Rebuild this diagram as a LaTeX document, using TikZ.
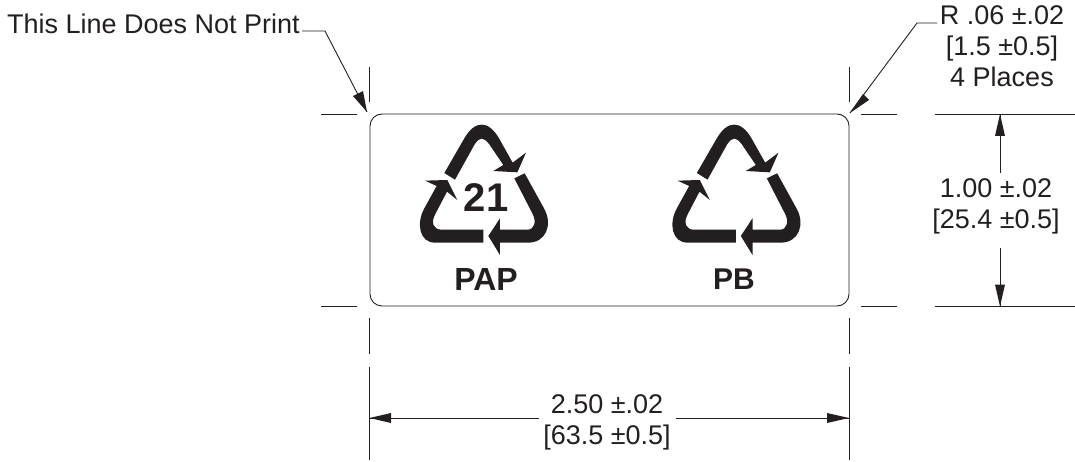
\documentclass[tikz,border=0pt]{standalone}
\usepackage{fontspec}
\setmainfont{Liberation Sans}
\definecolor{ink}{HTML}{231F20}
\tikzset{
  dimline/.style={draw=ink,line width=0.9pt},
  leader/.style={draw=ink,line width=0.9pt},
  head/.style={fill=ink,draw=none},
  dimtext/.style={font=\fontsize{27}{31}\selectfont,align=center,text=ink,inner sep=0pt},
  codetext/.style={font=\fontsize{30}{30}\selectfont\bfseries,text=ink,inner sep=0pt},
}
\newcommand{\recycle}{%
  % top arrow
  \fill[ink] (133,189) -- (193,85) .. controls (225,30) and (265,30) .. (297,85) -- (338,158) -- (378,128) -- (352,187) -- (280,183) -- (310,165) -- (268,103) .. controls (250,80) and (240,80) .. (224,103) -- (165,209) -- cycle;
  % right arrow
  \fill[ink] (374,190) -- (432,295) .. controls (460,345) and (437,398) .. (385,398) -- (300,398) -- (300,435) -- (265,378) -- (300,325) -- (300,359) -- (383,359) .. controls (403,359) and (410,335) .. (398,312) -- (343,205) -- cycle;
  % left arrow
  \fill[ink] (250,398) -- (105,398) .. controls (58,398) and (48,340) .. (73,295) -- (110,228) -- (75,212) -- (142,210) -- (172,270) -- (141,245) -- (107,310) .. controls (90,340) and (102,359) .. (124,359) -- (250,359) -- cycle;
}
\begin{document}
\begin{tikzpicture}[x=1pt,y=-1pt]
\useasboundingbox (0,0) rectangle (1075,462);
% label outline
\draw[draw=ink,line width=0.9pt,rounded corners=12pt] (370,114) rectangle (849,306);
% extension lines
\foreach \x in {369.5,849}{
  \draw[dimline] (\x,67) -- (\x,102);
  \draw[dimline] (\x,318) -- (\x,354);
  \draw[dimline] (\x,367) -- (\x,460);
}
\foreach \y in {114,306.5}{
  \draw[dimline] (321,\y) -- (357,\y);
  \draw[dimline] (861,\y) -- (897,\y);
  \draw[dimline] (935,\y) -- (1075,\y);
}
% width dimension
\coordinate (wl) at (369.5,418);
\coordinate (wr) at (849,418);
\node[dimtext] (wtext) at (607,422.5) {2.50 ±.02\\{[}63.5 ±0.5{]}};
\draw[dimline] (wl) -- (539,418);
\draw[dimline] (676,418) -- (wr);
\fill[head] (wl) -- (391,413) -- (391,423) -- cycle;
\fill[head] (wr) -- (827,413) -- (827,423) -- cycle;
% height dimension
\coordinate (ht) at (1000,114);
\coordinate (hb) at (1000,306.5);
\node[dimtext] (htext) at (996,206.5) {1.00 ±.02\\{[}25.4 ±0.5{]}};
\draw[dimline] (ht) -- (1000,173);
\draw[dimline] (1000,248) -- (hb);
\fill[head] (ht) -- (995,136) -- (1005,136) -- cycle;
\fill[head] (hb) -- (995,284.5) -- (1005,284.5) -- cycle;
% leaders
\node[dimtext,anchor=east] (ltext) at (300,24) {This Line Does Not Print};
\coordinate (ltip) at (367,112);
\draw[leader] (302,31) -- (325,31) -- (ltip);
\fill[head] (ltip) -- (353,96) -- (363,91) -- cycle;
\node[dimtext] (rtext) at (1002,46) {R .06 ±.02\\{[}1.5 ±0.5{]}\\4 Places};
\coordinate (rtip) at (850,113);
\draw[leader] (937,23) -- (917,23) -- (rtip);
\fill[head] (rtip) -- (863,94) -- (869,100) -- cycle;
% symbols
\begin{scope}[shift={(400,110)},x=0.3333pt,y=-0.3333pt]\recycle\end{scope}
\begin{scope}[shift={(652.5,110)},x=0.3333pt,y=-0.3333pt]\recycle\end{scope}
\node[font=\fontsize{40}{40}\selectfont\bfseries,text=ink,inner sep=0pt] (num) at (486,198) {21};
\node[codetext,font=\fontsize{32}{32}\selectfont\bfseries] (pap) at (486,279.5) {PAP};
\node[codetext] (pb) at (734,279.5) {PB};
\end{tikzpicture}
\end{document}
